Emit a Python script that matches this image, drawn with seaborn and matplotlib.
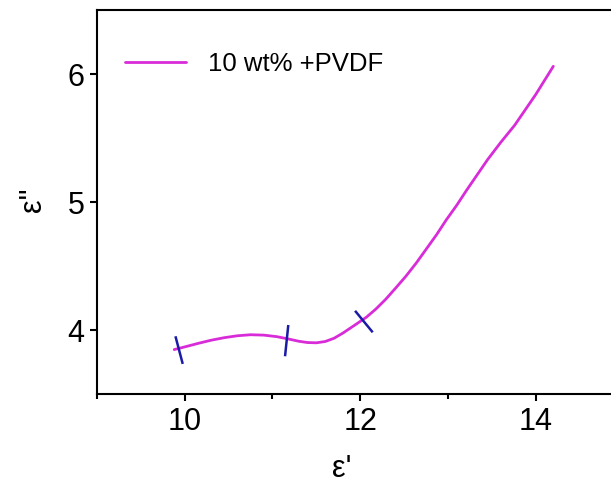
import matplotlib
matplotlib.use("Agg")
import matplotlib.pyplot as plt
from matplotlib.ticker import MultipleLocator
import seaborn as sns
import pandas as pd

# Values
eps_real = [9.88, 10.00, 10.15, 10.30, 10.45, 10.60, 10.75, 10.90, 11.05, 11.18,
            11.30, 11.40, 11.50, 11.60, 11.70, 11.80, 11.92, 12.07, 12.18, 12.29,
            12.40, 12.52, 12.64, 12.75, 12.87, 12.98, 13.10, 13.21, 13.33, 13.45,
            13.60, 13.76, 13.88, 14.00, 14.10, 14.20]
eps_imag = [3.847, 3.868, 3.895, 3.92, 3.94, 3.955, 3.963, 3.960, 3.948, 3.930,
            3.912, 3.902, 3.900, 3.910, 3.935, 3.975, 4.03, 4.10, 4.165, 4.24,
            4.325, 4.42, 4.525, 4.63, 4.745, 4.86, 4.975, 5.09, 5.21, 5.33,
            5.465, 5.60, 5.72, 5.84, 5.95, 6.06]
series_name = "10 wt% +PVDF"

# short blue marks crossing the curve (start / end points)
mark_x0 = [9.894, 11.180, 11.941]
mark_y0 = [3.951, 4.039, 4.150]
mark_x1 = [9.977, 11.143, 12.142]
mark_y1 = [3.735, 3.795, 3.982]

x_ticks = [10, 12, 14]
y_ticks = [4, 5, 6]

df = pd.DataFrame({"x": eps_real, "y": eps_imag, "label": series_name})

sns.set_style("ticks")
plt.rcParams['font.family'] = ['Liberation Sans', 'DejaVu Sans']
plt.rcParams['text.color'] = 'black'
plt.rcParams['axes.labelcolor'] = 'black'

fig = plt.figure(figsize=(6.11, 4.86), dpi=100)
ax = fig.add_axes([97 / 611, 92 / 486, 526.5 / 611, 384 / 486])

sns.lineplot(data=df, x="x", y="y", hue="label", palette=["#D82CD8"],
             sort=False, linewidth=2.0, ax=ax)

for xa, ya, xb, yb in zip(mark_x0, mark_y0, mark_x1, mark_y1):
    ax.plot([xa, xb], [ya, yb], color="#1B1BA8", linewidth=1.8, solid_capstyle="butt")

ax.set_xlim(9, 15)
ax.set_ylim(3.5, 6.5)
ax.set_xticks(x_ticks)
ax.set_yticks(y_ticks)
ax.xaxis.set_minor_locator(MultipleLocator(1))

for side in ["left", "bottom", "top"]:
    ax.spines[side].set_linewidth(1.5)
    ax.spines[side].set_color("black")
ax.spines["right"].set_visible(False)

ax.tick_params(axis="both", which="major", direction="out", length=5, width=1.5,
               labelsize=22, pad=4, colors="black")
ax.tick_params(axis="x", which="minor", direction="out", length=3.5, width=1.5,
               colors="black")

ax.set_xlabel("ε'", fontsize=22, color="black")
ax.set_ylabel('ε"', fontsize=22, color="black")
ax.xaxis.set_label_coords(0.465, -0.155)
ax.yaxis.set_label_coords(-0.093, 0.505)

ax.legend(loc="center left", bbox_to_anchor=(0.053, 0.859), frameon=False,
          fontsize=18.5, handlelength=2.37, handletextpad=0.86,
          borderpad=0, borderaxespad=0, labelcolor="black")

fig.savefig("out.png", dpi=100)
